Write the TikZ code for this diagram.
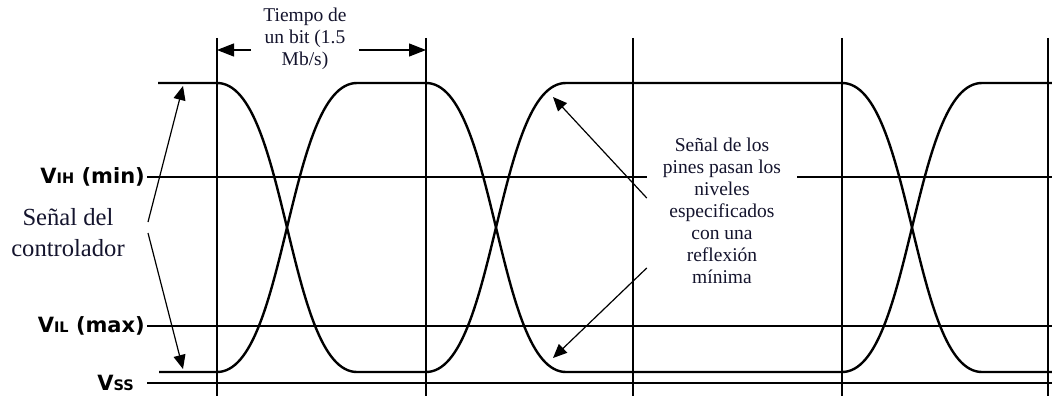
\documentclass[tikz,border=0pt]{standalone}
\usepackage{fontspec}
\setmainfont{Liberation Serif}
\newfontfamily\lvlfont{DejaVu Sans}
\usetikzlibrary{positioning,arrows.meta}
\definecolor{ink}{RGB}{20,20,45}
\newcommand{\lvlsub}[1]{{\fontsize{14.5}{14.5}\selectfont #1}}

\begin{document}
\begin{tikzpicture}[x=1pt,y=-1pt,>={Triangle[length=14pt,width=12pt]},
  gridln/.style={line width=1.1pt},
  rail/.style={line width=2.6pt},
  sig/.style={line width=2.4pt,line join=round},
  ptr/.style={->,line width=1.2pt},
  dim/.style={-{Triangle[length=17pt,width=13pt]},line width=1.2pt},
  lvl/.style={font=\lvlfont\bfseries\fontsize{21}{24}\selectfont,inner sep=0pt},
  note/.style={font=\fontsize{19.5}{22}\selectfont,text=ink,align=center}]
  \useasboundingbox (0,0) rectangle (1052,396);
  % threshold levels
  \coordinate (vihL) at (147,177);
  \coordinate (vilL) at (147,326);
  \coordinate (vssL) at (147,383);
  \draw[gridln] (vihL) -- (1052,177);
  \draw[gridln] (vilL) -- (1052,326);
  \draw[rail] (vssL) -- (1052,383);
  % bit boundaries
  \draw[gridln] (217,38) -- (217,396);
  \draw[gridln] (426,38) -- (426,396);
  \draw[gridln] (633,38) -- (633,396);
  \draw[gridln] (842,38) -- (842,396);
  \draw[gridln] (1048,38) -- (1048,396);
  \node[lvl,left=2pt of vihL] (vih) {V\lvlsub{IH} (min)};
  \node[lvl,left=2pt of vilL] (vil) {V\lvlsub{IL} (max)};
  \node[lvl,left=13pt of vssL] (vss) {V\lvlsub{SS}};
  % callout over the V_IH line
  \node[note,fill=white,inner xsep=16pt,inner ysep=4pt] (pins) at (722,211)
    {Señal de los\\pines pasan los\\niveles\\especificados\\con una\\reflexión\\mínima};
  % the two driven signals
  \draw[sig] (158,83) -- (217,83) .. controls (287,83) and (287,372) .. (357,372)
    -- (426,372) .. controls (496,372) and (496,83) .. (566,83)
    -- (842,83) .. controls (912,83) and (912,372) .. (982,372) -- (1052,372);
  \draw[sig] (159,372) -- (217,372) .. controls (287,372) and (287,83) .. (357,83)
    -- (426,83) .. controls (496,83) and (496,372) .. (566,372)
    -- (842,372) .. controls (912,372) and (912,83) .. (982,83) -- (1052,83);
  \coordinate (hiTip) at (553,97);
  \coordinate (loTip) at (553,358);
  \draw[ptr] ([yshift=13pt]pins.west) -- (hiTip);
  \draw[ptr] ([yshift=-57pt]pins.west) -- (loTip);
  % bit time
  \node[note,inner xsep=12pt] (bit) at (305,39) {Tiempo de\\un bit (1.5\\Mb/s)};
  \coordinate (bitL) at (217,50);
  \coordinate (bitR) at (426,50);
  \draw[dim] (bit.west |- bitL) -- (bitL);
  \draw[dim] (bit.east |- bitR) -- (bitR);
  % driver label
  \node[note,font=\fontsize{24.6}{31}\selectfont] (ctrl) at (68,233) {Señal del\\controlador};
  \coordinate (ctrlA) at (148,222);
  \coordinate (ctrlB) at (148,233);
  \coordinate (hiRef) at (183,86);
  \coordinate (loRef) at (183,369);
  \draw[ptr] (ctrlA) -- (hiRef);
  \draw[ptr] (ctrlB) -- (loRef);
\end{tikzpicture}
\end{document}
